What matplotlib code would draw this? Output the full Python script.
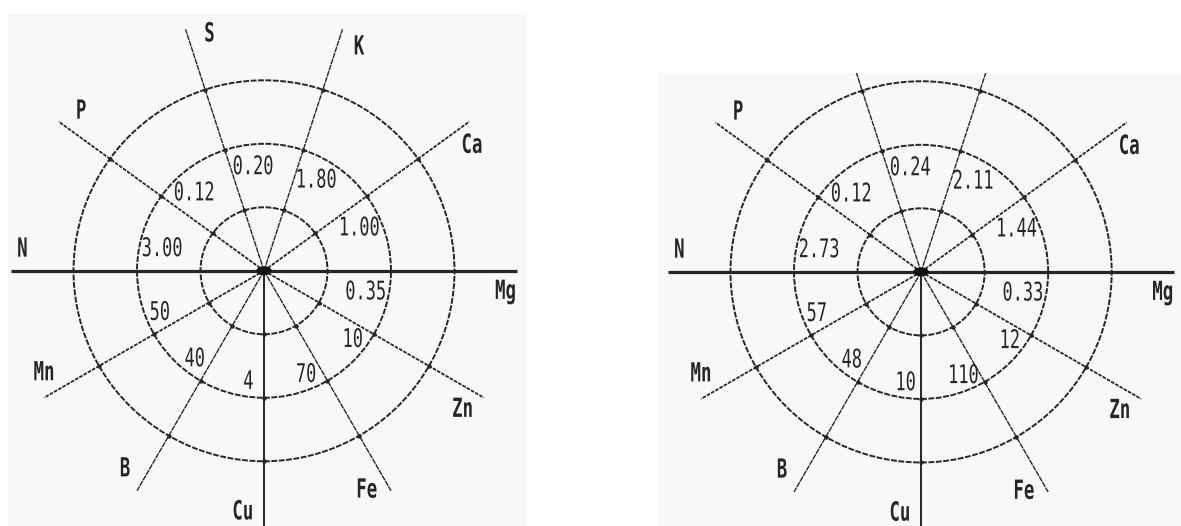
import matplotlib.pyplot as plt
import numpy as np
from matplotlib import patheffects
from matplotlib.patches import Circle, Ellipse
from matplotlib.transforms import Affine2D

# nutrients on the wheel, counter-clockwise starting at Mg (east)
nutrients = ["Mg", "Ca", "K", "S", "P", "N", "Mn", "B", "Cu", "Fe", "Zn"]
angles = [0, 36, 72, 108, 144, 180, 210, 240, 270, 300, 330]

# optimum values written next to each spoke on the middle ring
values_left = ["0.35", "1.00", "1.80", "0.20", "0.12", "3.00", "50", "40", "4", "70", "10"]
values_right = ["0.33", "1.44", "2.11", "0.24", "0.12", "2.73", "57", "48", "10", "110", "12"]

rings = [1, 2, 3]

INK = "#262626"
FONT = ["DejaVu Sans Mono", "DejaVu Sans"]


class Squeeze(patheffects.AbstractPathEffect):
    """Narrow the glyphs horizontally about the text centre (plotter-style lettering)."""

    def __init__(self, sx=0.65):
        super().__init__()
        self.sx = sx

    def draw_path(self, renderer, gc, tpath, affine, rgbFace=None):
        bb = tpath.get_extents(affine)
        cx = (bb.x0 + bb.x1) / 2
        aff = affine + Affine2D().translate(-cx, 0).scale(self.sx, 1).translate(cx, 0)
        renderer.draw_path(gc, tpath, aff, rgbFace)


SQUEEZE = [Squeeze(0.66)]


def polar(r, deg):
    a = np.radians(deg)
    return r * np.cos(a), r * np.sin(a)


def draw_wheel(ax, values):
    ax.set_facecolor("#f8f8f8")
    for s in ax.spines.values():
        s.set_visible(False)
    ax.set_xticks([])
    ax.set_yticks([])
    ax.set_aspect("equal")

    # concentric rings
    for r in rings:
        ax.add_patch(Circle((0, 0), r, fill=False, ec=INK, lw=1.4,
                            ls=(0, (3, 0.8)), zorder=2))

    # spokes
    for ang in angles:
        if ang in (0, 180):
            x, y = polar(3.98, ang)
            ax.plot([0, x], [0, y], color=INK, lw=2.3, solid_capstyle="butt", zorder=3)
            continue
        if ang == 270:
            x, y = polar(6.0, ang)
            ax.plot([0, x], [0, y], color=INK, lw=1.4, zorder=3)
        elif ang in (72, 108, 240, 300):
            x, y = polar(4.0, ang)
            ax.plot([0, x], [0, y], color=INK, lw=1.0, ls=(0, (4, 0.6)), zorder=3)
        else:
            x, y = polar(4.0, ang)
            ax.plot([0, x], [0, y], color=INK, lw=1.3, ls=(0, (2, 0.7)), zorder=3)
        # small dots where the spoke crosses each ring
        for r in rings:
            px, py = polar(r, ang)
            ax.plot(px, py, "o", ms=2.2, color=INK, zorder=4)

    ax.add_patch(Ellipse((0, 0), 0.22, 0.12, color="#111111", zorder=5))

    # element names near the spoke ends, clockwise of the spoke
    for name, ang in zip(nutrients, angles):
        x, y = polar(3.82, ang - 5)
        ax.text(x, y, name, ha="center", va="center", fontsize=19,
                family=FONT, fontweight="bold", color=INK, clip_on=True,
                zorder=6, path_effects=SQUEEZE)

    # values just inside the middle ring, clockwise of each spoke
    for val, ang in zip(values, angles):
        if ang <= 180:
            x, y = polar(1.64, ang - 12)
        else:
            x, y = polar(1.77, ang - 8)
        ax.text(x, y, val, ha="center", va="center", fontsize=18.5,
                family=FONT, color=INK, clip_on=True, zorder=6,
                path_effects=SQUEEZE)


fig = plt.figure(figsize=(11.81, 5.26), dpi=100)
fig.patch.set_facecolor("white")

ax1 = fig.add_axes([8 / 1181, 0, 519 / 1181, 513 / 526])
ax1.set_xlim(-4.03, 4.14)
ax1.set_ylim(-4.02, 4.06)
draw_wheel(ax1, values_left)

ax2 = fig.add_axes([658 / 1181, 0, 523 / 1181, 453 / 526])
ax2.set_xlim(-4.14, 4.09)
ax2.set_ylim(-4.0, 3.13)
draw_wheel(ax2, values_right)

fig.savefig("out.png", dpi=100, facecolor="white")
